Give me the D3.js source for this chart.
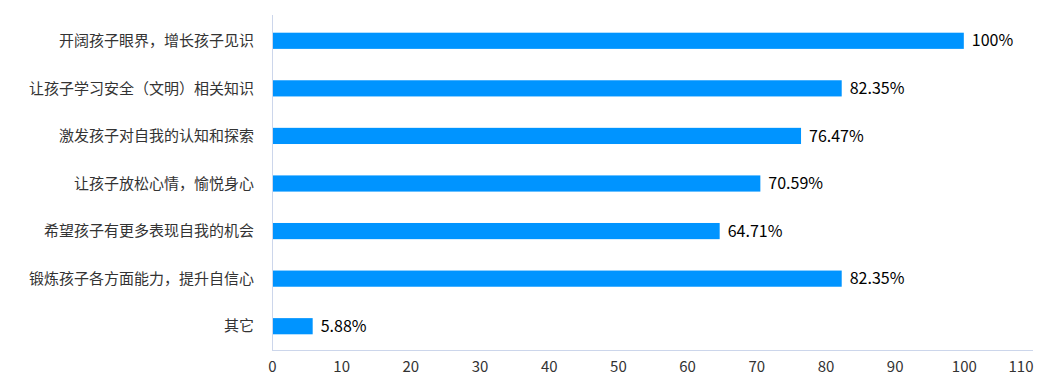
<!DOCTYPE html>
<html>
<head>
    <meta charset="utf-8">
    <script src="https://cdn.jsdelivr.net/npm/d3@7"></script>
    <style>
        body { margin: 0; background: #fff; font-family: "Noto Sans CJK SC", sans-serif; }
        .cat { font-size: 15px; fill: #333; }
        .tick text { font-size: 15px; fill: #333; font-family: "Noto Sans CJK SC", sans-serif; }
        .val { font-size: 16px; fill: #000; }
    </style>
</head>
<body>
<div id="chart"></div>
<script>
var categories = ['开阔孩子眼界，增长孩子见识', '让孩子学习安全（文明）相关知识', '激发孩子对自我的认知和探索',
                  '让孩子放松心情，愉悦身心', '希望孩子有更多表现自我的机会', '锻炼孩子各方面能力，提升自信心', '其它'];
var values = [100, 82.35, 76.47, 70.59, 64.71, 82.35, 5.88];
var valueLabels = ['100%', '82.35%', '76.47%', '70.59%', '64.71%', '82.35%', '5.88%'];
var xTicks = d3.range(0, 111, 10);

var width = 1054, height = 384;
var margin = {top: 17, right: 21, bottom: 34, left: 272};

var svg = d3.select('#chart').append('svg')
            .attr('width', width).attr('height', height);

var x = d3.scaleLinear().domain([0, 110]).range([margin.left, width - margin.right]);
var y = d3.scaleBand().domain(categories)
          .range([margin.top, height - margin.bottom]).paddingInner(0.66).paddingOuter(0.33);

// axis lines
svg.append('line')
   .attr('x1', x(0) + 0.5).attr('x2', x(0) + 0.5)
   .attr('y1', 15).attr('y2', height - margin.bottom)
   .attr('stroke', '#ccd6eb');
svg.append('line')
   .attr('x1', x(0)).attr('x2', x(110))
   .attr('y1', height - margin.bottom + 0.5).attr('y2', height - margin.bottom + 0.5)
   .attr('stroke', '#ccd6eb');

var xAxis = svg.append('g')
               .attr('transform', 'translate(0,' + (height - margin.bottom) + ')')
               .call(d3.axisBottom(x).tickValues(xTicks).tickSize(0).tickPadding(11));
xAxis.select('.domain').remove();
// keep the last label inside the plot
xAxis.selectAll('.tick text')
     .filter(function(d) { return d === 110; })
     .attr('text-anchor', 'end');

svg.selectAll('.bar')
   .data(values)
   .enter().append('rect')
   .attr('class', 'bar')
   .attr('x', x(0) + 1)
   .attr('y', function(d, i) { return y(categories[i]); })
   .attr('width', function(d) { return x(d) - x(0) - 1; })
   .attr('height', y.bandwidth())
   .attr('fill', '#0094ff');

svg.selectAll('.cat')
   .data(categories)
   .enter().append('text')
   .attr('class', 'cat')
   .attr('x', 254)
   .attr('y', function(d) { return y(d) + y.bandwidth() / 2; })
   .attr('dy', '0.35em')
   .attr('text-anchor', 'end')
   .text(function(d) { return d; });

svg.selectAll('.val')
   .data(values)
   .enter().append('text')
   .attr('class', 'val')
   .attr('x', function(d) { return x(d) + 8; })
   .attr('y', function(d, i) { return y(categories[i]) + y.bandwidth() / 2; })
   .attr('dy', '0.35em')
   .text(function(d, i) { return valueLabels[i]; });
</script>
</body>
</html>
